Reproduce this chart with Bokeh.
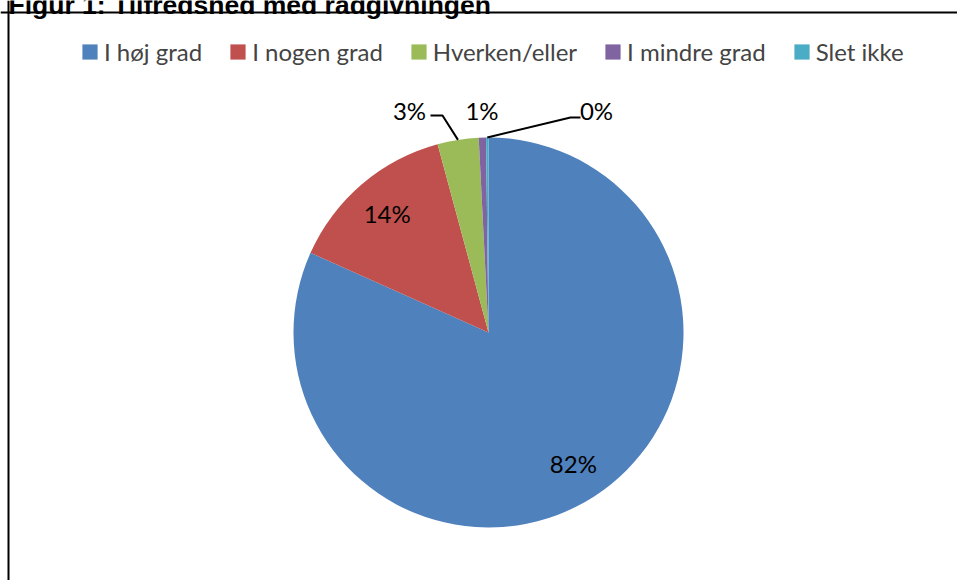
import math
from bokeh.plotting import figure
from bokeh.models import Span, Label, Legend, LegendItem, ColumnDataSource
from bokeh.embed import file_html
from bokeh.resources import INLINE
from bokeh.core.properties import value

# ---- data ----
title_text = "Figur 1: Tilfredshed med rådgivningen"
categories = ["I høj grad", "I nogen grad", "Hverken/eller", "I mindre grad", "Slet ikke"]
shares = [81.7, 14.1, 3.4, 0.6, 0.2]
colors = ["#4F81BD", "#C0504D", "#9BBB59", "#8064A2", "#4BACC6"]

# ---- layout (pixels; data units == pixels, y measured up from bottom) ----
W, H = 957, 580
CX, CY, R = 488, 248, 195
INNER_FRAC = 0.8
# outside label positions relative to centre, and leader elbows/ends
outside = {
    2: dict(lbl=(-79, 222.5), elbow=(-46, 217), end=(-58, 217)),
    3: dict(lbl=(-6.5, 222.5), elbow=None, end=None),
    4: dict(lbl=(108, 222), elbow=(82, 215), end=(92, 215)),
}
FONT = "Lato"

p = figure(width=W, height=H, x_range=(0, W), y_range=(0, H),
           output_backend="svg", toolbar_location=None,
           x_axis_type=None, y_axis_type=None, min_border=0)
p.grid.visible = False
p.outline_line_color = None
p.background_fill_color = "white"
p.border_fill_color = "white"

total = sum(shares)
starts, ends, mids = [], [], []
cum = 0.0
for s in shares:
    a_end = math.pi / 2 - 2 * math.pi * cum / total
    cum += s
    a_start = math.pi / 2 - 2 * math.pi * cum / total
    starts.append(a_start)
    ends.append(a_end)
    mids.append((a_start + a_end) / 2)

src = ColumnDataSource(dict(start=starts, end=ends, color=colors, cat=categories))
wr = p.wedge(x=CX, y=CY, radius=R, start_angle="start", end_angle="end",
             direction="anticlock", fill_color="color", line_color=None, source=src)

labels = [f"{round(s)}%" for s in shares]
lx, ly, lt = [], [], []
for i, (m, t) in enumerate(zip(mids, labels)):
    if i in outside:
        dx, dy = outside[i]["lbl"]
        lx.append(CX + dx); ly.append(CY + dy)
    else:
        lx.append(CX + INNER_FRAC * R * math.cos(m))
        ly.append(CY + INNER_FRAC * R * math.sin(m))
    lt.append(t)
p.text(x=lx, y=ly, text=lt, text_align="center", text_baseline="middle",
       text_font=value(FONT), text_font_size="24px", text_color="black")

xs, ys = [], []
for i, o in outside.items():
    if o["elbow"] is None:
        continue
    m = mids[i]
    x0, y0 = CX + R * math.cos(m), CY + R * math.sin(m)
    xs.append([x0, CX + o["elbow"][0], CX + o["end"][0]])
    ys.append([y0, CY + o["elbow"][1], CY + o["end"][1]])
p.multi_line(xs=xs, ys=ys, line_color="black", line_width=2)

items = [LegendItem(label=c, renderers=[wr], index=i) for i, c in enumerate(categories)]
legend = Legend(items=items, orientation="horizontal", location=(80, H - 66),
                glyph_width=19, glyph_height=19, label_standoff=5, spacing=26,
                padding=0, margin=0, border_line_color=None, background_fill_alpha=0,
                label_text_font=FONT, label_text_font_size="24px", label_height=15)
p.add_layout(legend, "center")

p.add_layout(Span(location=8, dimension="height", line_color="black", line_width=2))
p.add_layout(Span(location=H - 12, dimension="width", line_color="black", line_width=2))

p.add_layout(Label(x=8, y=H - 4, text=title_text, text_font="Liberation Sans",
                   text_font_style="bold", text_font_size="26.5px", text_baseline="alphabetic",
                   text_color="black"))

open("out.html", "w").write(file_html(p, INLINE))
